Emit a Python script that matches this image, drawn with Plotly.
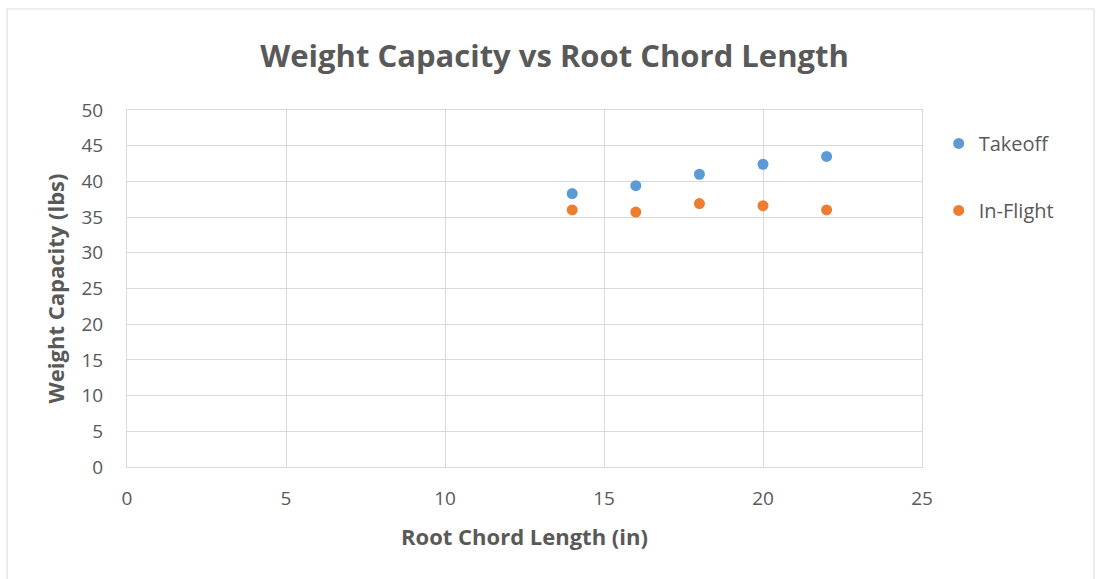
import plotly.graph_objects as go

# Root chord lengths tested (in)
chord_lengths = [14, 16, 18, 20, 22]
# Weight capacity (lbs) for each phase
takeoff_capacity = [38.3, 39.4, 41.0, 42.4, 43.5]
inflight_capacity = [36.0, 35.7, 36.9, 36.6, 36.0]

x_ticks = [0, 5, 10, 15, 20, 25]
y_ticks = [0, 5, 10, 15, 20, 25, 30, 35, 40, 45, 50]

TEXT = "#595959"
GRID = "#D9D9D9"
FONT = "Open Sans"

fig = go.Figure()
fig.add_trace(go.Scatter(
    x=chord_lengths, y=takeoff_capacity, mode="markers", name="Takeoff",
    legendgroup="a",
    marker=dict(color="#5B9BD5", size=11),
))
fig.add_trace(go.Scatter(
    x=chord_lengths, y=inflight_capacity, mode="markers", name="In-Flight",
    legendgroup="b",
    marker=dict(color="#ED7D31", size=11),
))

fig.update_layout(
    width=1096, height=579,
    margin=dict(l=127, r=174, t=110, b=112),
    paper_bgcolor="white", plot_bgcolor="white",
    font=dict(family=FONT, color=TEXT, size=19),
    title=dict(
        text="<b>Weight Capacity vs Root Chord Length</b>",
        x=0.506, xanchor="center", y=0.903, yanchor="middle",
        font=dict(family=FONT, size=31, color=TEXT),
    ),
    xaxis=dict(
        range=[0, 25], tickvals=x_ticks, showgrid=True, gridcolor=GRID,
        gridwidth=1, zeroline=False, showline=True, linecolor=GRID,
        mirror=True, ticks="outside", ticklen=14, tickcolor="rgba(0,0,0,0)",
        title=dict(text="<b>Root Chord Length (in)</b>", standoff=19,
                   font=dict(size=22, color=TEXT)),
        tickfont=dict(size=19, color=TEXT),
    ),
    yaxis=dict(
        range=[0, 50], tickvals=y_ticks, showgrid=True, gridcolor=GRID,
        gridwidth=1, zeroline=False, showline=True, linecolor=GRID,
        mirror=True, ticks="outside", ticklen=19, tickcolor="rgba(0,0,0,0)",
        title=dict(text="<b>Weight Capacity (lbs)</b>", standoff=10,
                   font=dict(size=22, color=TEXT)),
        tickfont=dict(size=19, color=TEXT),
    ),
    legend=dict(
        x=1.021, xanchor="left", y=0.961, yanchor="top",
        tracegroupgap=38, itemwidth=30,
        font=dict(size=20, color=TEXT),
        bgcolor="rgba(0,0,0,0)",
    ),
    shapes=[dict(
        type="rect", xref="paper", yref="paper",
        x0=-120 / 795, x1=1.0 + 172 / 795, y0=-0.5, y1=1.0 + 101 / 357,
        line=dict(color="#D9D9D9", width=1), fillcolor="rgba(0,0,0,0)",
        layer="below",
    )],
)

fig.write_html("out.html")
